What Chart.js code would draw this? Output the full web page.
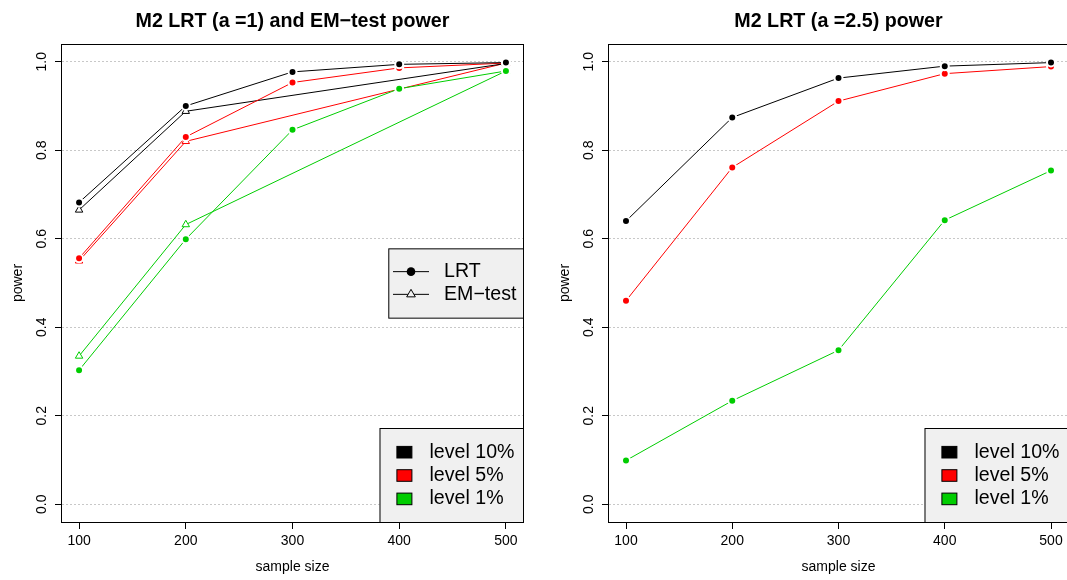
<!DOCTYPE html>
<html>
<head>
<meta charset="utf-8">
<script src="https://cdn.jsdelivr.net/npm/chart.js@4.4.1/dist/chart.umd.min.js"></script>
<style>
  html, body { margin: 0; padding: 0; background: #fff; overflow: hidden; }
  #wrap { position: relative; width: 1067px; height: 580px; overflow: hidden; background: #fff; }
  .panel { position: absolute; top: 0; height: 580px; }
</style>
</head>
<body>
<div id="wrap">
  <div class="panel" style="left:0;width:534px"><canvas id="left" width="534" height="580"></canvas></div>
  <div class="panel" style="left:534px;width:540px"><canvas id="right" width="540" height="580"></canvas></div>
</div>
<script>
// ---- data ----
const sampleSizes   = [100, 200, 300, 400, 500];
const emSampleSizes = [100, 200, 500];
const xTicks = [100, 200, 300, 400, 500];
const yTicks = [0.0, 0.2, 0.4, 0.6, 0.8, 1.0];

const levelNames  = ['level 10%', 'level 5%', 'level 1%'];
const levelColors = ['#000000', '#FF0000', '#00CD00'];

// a = 1 : LRT power by level
const lrtA1Level10 = [0.682, 0.900, 0.977, 0.994, 0.998];
const lrtA1Level5  = [0.556, 0.830, 0.953, 0.986, 0.997];
const lrtA1Level1  = [0.303, 0.599, 0.846, 0.939, 0.979];
// a = 1 : EM-test power by level
const emA1Level10 = [0.665, 0.888, 0.996];
const emA1Level5  = [0.550, 0.820, 0.997];
const emA1Level1  = [0.335, 0.632, 0.979];
// a = 2.5 : LRT power by level
const lrtA25Level10 = [0.640, 0.874, 0.963, 0.990, 0.998];
const lrtA25Level5  = [0.460, 0.761, 0.911, 0.973, 0.989];
const lrtA25Level1  = [0.099, 0.234, 0.348, 0.642, 0.754];

const FONT = "'Liberation Sans', Arial, Helvetica, sans-serif";
Chart.defaults.font.family = FONT;
Chart.defaults.color = '#000';

function pairs(xs, ys) { return xs.map((x, i) => ({ x: x, y: ys[i] })); }

function lrtDataset(label, xs, ys, color) {
  return {
    label, data: pairs(xs, ys),
    borderColor: color, borderWidth: 1, tension: 0,
    pointStyle: 'circle', pointRadius: 4, pointBorderWidth: 2,
    pointBackgroundColor: color, pointBorderColor: '#ffffff'
  };
}
function emDataset(label, xs, ys, color) {
  return {
    label, data: pairs(xs, ys),
    borderColor: color, borderWidth: 1, tension: 0,
    pointStyle: 'triangle', pointRadius: 4.3, pointBorderWidth: 1,
    pointBackgroundColor: '#ffffff', pointBorderColor: color
  };
}

// frame, title, rotated y labels and the two legends
const decorPlugin = {
  id: 'decor',
  afterDraw(chart, args, opts) {
    const { ctx, chartArea: a, scales } = chart;
    ctx.save();
    // plot frame
    ctx.strokeStyle = '#000';
    ctx.lineWidth = 1;
    ctx.setLineDash([]);
    ctx.strokeRect(Math.round(a.left) - 0.5, Math.round(a.top) + 0.5,
                   Math.round(a.right - a.left) + 1, Math.round(a.bottom - a.top));

    // title
    ctx.fillStyle = '#000';
    ctx.font = 'bold 19.7px ' + FONT;
    ctx.textAlign = 'center';
    ctx.textBaseline = 'alphabetic';
    ctx.fillText(opts.title, (a.left + a.right) / 2, 27);

    // y tick labels, rotated
    ctx.font = '14px ' + FONT;
    yTicks.forEach(v => {
      const y = scales.y.getPixelForValue(v);
      ctx.save();
      ctx.translate(a.left - 16.5, y);
      ctx.rotate(-Math.PI / 2);
      ctx.textAlign = 'center';
      ctx.textBaseline = 'alphabetic';
      ctx.fillText(v.toFixed(1), 0, 0);
      ctx.restore();
    });

    // method legend (right, vertically centred)
    if (opts.methodLegend) {
      const w = 134.7, h = 69.3;
      const x0 = a.right - w, y0 = (a.top + a.bottom) / 2 - h / 2;
      ctx.fillStyle = '#f0f0f0';
      ctx.fillRect(x0, y0, w, h);
      ctx.strokeStyle = '#000';
      ctx.strokeRect(x0 + 0.5, y0 + 0.5, w, h);
      const rows = [y0 + 23.3, y0 + 46];
      ctx.lineWidth = 1;
      rows.forEach((ry, i) => {
        ctx.beginPath();
        ctx.moveTo(x0 + 4.7, ry); ctx.lineTo(x0 + 40.7, ry);
        ctx.strokeStyle = '#000'; ctx.stroke();
        const mx = x0 + 22.7;
        if (i === 0) {
          ctx.beginPath(); ctx.arc(mx, ry, 4.3, 0, Math.PI * 2);
          ctx.fillStyle = '#000'; ctx.fill();
        } else {
          const r = 5;
          ctx.beginPath();
          ctx.moveTo(mx, ry - r);
          ctx.lineTo(mx + r * Math.sin(2 * Math.PI / 3), ry - r * Math.cos(2 * Math.PI / 3));
          ctx.lineTo(mx + r * Math.sin(4 * Math.PI / 3), ry - r * Math.cos(4 * Math.PI / 3));
          ctx.closePath();
          ctx.fillStyle = '#f0f0f0'; ctx.fill();
          ctx.strokeStyle = '#000'; ctx.stroke();
        }
        ctx.fillStyle = '#000';
        ctx.font = '19.6px ' + FONT;
        ctx.textAlign = 'left';
        ctx.textBaseline = 'middle';
        ctx.fillText(opts.methodNames[i], x0 + 55.7, ry);
      });
    }

    // level legend (bottom right)
    {
      const w = 143.5, h = 94;
      const x0 = a.right - w, y0 = a.bottom - h;
      ctx.fillStyle = '#f0f0f0';
      ctx.fillRect(x0, y0, w, h);
      ctx.strokeStyle = '#000';
      ctx.lineWidth = 1;
      ctx.strokeRect(x0 + 0.5, y0 + 0.5, w, h);
      const rows = [y0 + 24.2, y0 + 47.5, y0 + 70.9];
      rows.forEach((ry, i) => {
        ctx.fillStyle = levelColors[i];
        ctx.fillRect(x0 + 17.4, ry - 5.8, 15, 11.6);
        ctx.strokeStyle = '#000';
        ctx.strokeRect(x0 + 17.4, ry - 5.8, 15, 11.6);
        ctx.fillStyle = '#000';
        ctx.font = '19.6px ' + FONT;
        ctx.textAlign = 'left';
        ctx.textBaseline = 'middle';
        ctx.fillText(levelNames[i], x0 + 50, ry);
      });
    }
    ctx.restore();
  }
};

function makeChart(canvasId, datasets, title, methodLegend, padLeft, padRight) {
  return new Chart(document.getElementById(canvasId), {
    type: 'line',
    data: { datasets },
    plugins: [decorPlugin],
    options: {
      responsive: false,
      animation: false,
      events: [],
      layout: { padding: { left: padLeft, right: padRight, top: 44, bottom: 0 } },
      plugins: {
        legend: { display: false },
        title: { display: false },
        tooltip: { enabled: false },
        decor: { title, methodLegend, methodNames: ['LRT', 'EM\u2212test'] }
      },
      scales: {
        x: {
          type: 'linear', min: 84, max: 516,
          afterBuildTicks: s => { s.ticks = xTicks.map(v => ({ value: v })); },
          afterFit: s => { s.height = 58; },
          ticks: { font: { size: 14 }, padding: 3.5, maxRotation: 0, callback: v => String(v) },
          grid: { drawOnChartArea: false, drawTicks: true, tickLength: 7, tickColor: '#000', tickWidth: 1 },
          border: { display: false },
          title: { display: true, text: 'sample size', font: { size: 14 }, padding: { top: 0, bottom: 4.6 } }
        },
        y: {
          type: 'linear', min: -0.04, max: 1.04,
          afterBuildTicks: s => { s.ticks = yTicks.map(v => ({ value: v })); },
          afterFit: s => { s.width = 62; },
          ticks: { display: false },
          grid: { drawOnChartArea: true, drawTicks: true, tickLength: 7, color: '#c8c8c8', lineWidth: 1,
                  tickColor: '#000', tickWidth: 1, tickBorderDash: [] },
          border: { display: false, dash: [2, 2] },
          title: { display: true, text: 'power', font: { size: 14 }, padding: { top: 9.3, bottom: 0 } }
        }
      }
    }
  });
}

makeChart('left', [
  lrtDataset('LRT level 10%', sampleSizes, lrtA1Level10, levelColors[0]),
  lrtDataset('LRT level 5%',  sampleSizes, lrtA1Level5,  levelColors[1]),
  lrtDataset('LRT level 1%',  sampleSizes, lrtA1Level1,  levelColors[2]),
  emDataset('EM-test level 10%', emSampleSizes, emA1Level10, levelColors[0]),
  emDataset('EM-test level 5%',  emSampleSizes, emA1Level5,  levelColors[1]),
  emDataset('EM-test level 1%',  emSampleSizes, emA1Level1,  levelColors[2])
], 'M2 LRT (a =1) and EM\u2212test power', true, 0, 11);

makeChart('right', [
  lrtDataset('LRT level 10%', sampleSizes, lrtA25Level10, levelColors[0]),
  lrtDataset('LRT level 5%',  sampleSizes, lrtA25Level5,  levelColors[1]),
  lrtDataset('LRT level 1%',  sampleSizes, lrtA25Level1,  levelColors[2])
], 'M2 LRT (a =2.5) power', false, 13, 4);
</script>
</body>
</html>
